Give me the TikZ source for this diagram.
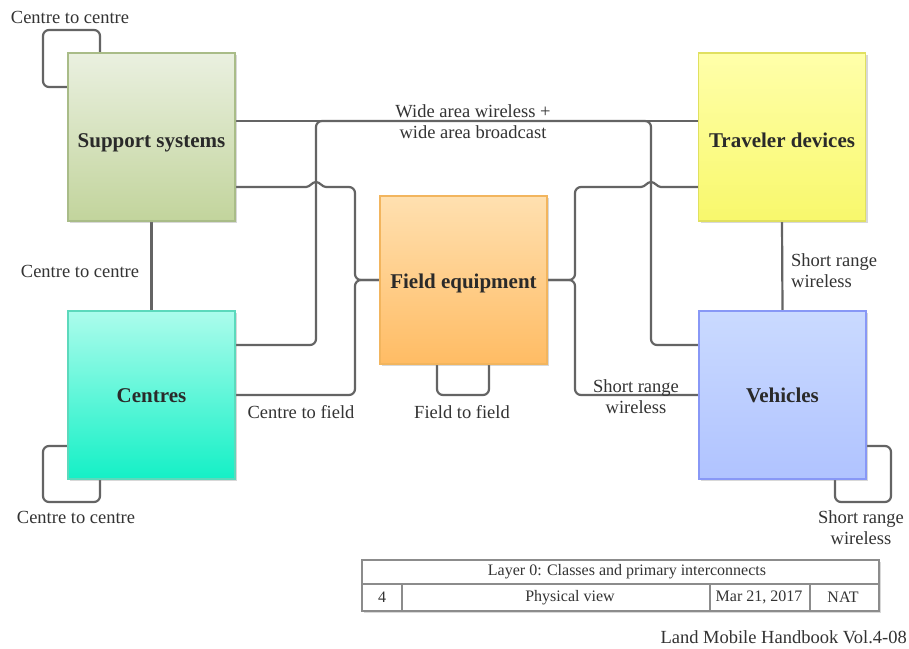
\documentclass[tikz,border=0pt]{standalone}
\usepackage{fontspec}
\setmainfont{Liberation Serif}
\usetikzlibrary{shadows}
\pgfdeclarelayer{paper}
\pgfdeclarelayer{wires}
\pgfsetlayers{paper,wires,main}

\definecolor{wirecol}{HTML}{646464}
\definecolor{titlecol}{HTML}{2A2A2A}
\definecolor{lblcol}{HTML}{333333}
\definecolor{tblcol}{HTML}{8C8C8C}
\definecolor{supdraw}{HTML}{A9BC88}
\definecolor{suptop}{HTML}{EAF0E0}
\definecolor{supbot}{HTML}{C2D49C}
\definecolor{trvdraw}{HTML}{E0E060}
\definecolor{trvtop}{HTML}{FFFFAA}
\definecolor{trvbot}{HTML}{F8F86C}
\definecolor{flddraw}{HTML}{F2B55E}
\definecolor{fldtop}{HTML}{FFE0B0}
\definecolor{fldbot}{HTML}{FFBC64}
\definecolor{cendraw}{HTML}{5CD9BC}
\definecolor{centop}{HTML}{ACFCEC}
\definecolor{cenbot}{HTML}{14F0C6}
\definecolor{vehdraw}{HTML}{8898F6}
\definecolor{vehtop}{HTML}{CADAFF}
\definecolor{vehbot}{HTML}{B0C3FF}

\begin{document}
\begin{tikzpicture}[x=1pt,y=-1pt,
  wire/.style={draw=wirecol, line width=2.2pt, rounded corners=6pt},
  hop/.style={draw=wirecol, line width=2.2pt, sharp corners},
  unit/.style={draw, line width=1.2pt, minimum width=167pt, minimum height=168pt,
    inner sep=0pt, font=\fontsize{21}{24}\selectfont\bfseries, text=titlecol,
    text height=14pt, text depth=0pt,
    drop shadow={shadow xshift=2pt, shadow yshift=-2pt, opacity=0.3}},
  lbl/.style={font=\fontsize{18.5}{21}\selectfont, text=lblcol, align=center, inner sep=0pt},
  cell/.style={draw=tblcol, line width=1.4pt, inner sep=0pt},
  ctext/.style={font=\fontsize{16}{18}\selectfont, text=lblcol, inner sep=0pt}
]
\begin{pgfonlayer}{paper}
  \fill[white] (0,0) rectangle (909,648);
\end{pgfonlayer}
\useasboundingbox (0,0) rectangle (909,648);

% physical object classes
\node[unit, draw=supdraw, top color=suptop, bottom color=supbot, text height=21pt] (sup) at (151.5,137) {Support systems};
\node[unit, draw=trvdraw, top color=trvtop, bottom color=trvbot, text height=21pt] (trv) at (782,137) {Traveler devices};
\node[unit, draw=flddraw, top color=fldtop, bottom color=fldbot, text height=16pt] (fld) at (463.5,280) {Field equipment};
\node[unit, draw=cendraw, top color=centop, bottom color=cenbot] (cen) at (151.5,395) {Centres};
\node[unit, draw=vehdraw, top color=vehtop, bottom color=vehbot] (veh) at (782.5,395) {Vehicles};

% ends of the two line hops
\coordinate (hopA) at (326,187);
\coordinate (hopB) at (641,187);

% interconnects
\begin{pgfonlayer}{wires}
  % centre to centre loops
  \draw[wire] ([xshift=-51.5pt]sup.north) -- (100,30) -- (43,30) -- (43,87) -- ([yshift=50pt]sup.west);
  \draw[wire] ([yshift=-51pt]cen.west) -- (43,446) -- (43,502) -- (100,502) -- ([xshift=-51.5pt]cen.south);
  \draw[wire] (sup.south) -- (cen.north);
  % wide area wireless
  \draw[wire] ([yshift=16pt]sup.east) -- ([yshift=16pt]trv.west);
  \draw[wire] ([yshift=50pt]cen.east) -- (316,345) -- (316,121) -- (651,121) -- (651,345) -- ([yshift=50pt]veh.west);
  % centre to field
  \draw[hop] ([yshift=-50pt]sup.east) -- (306,187)
    .. controls (310,187) and (312,182) .. (316,182)
    .. controls (320,182) and (322,187) .. (hopA);
  \draw[wire] (hopA) -- (355,187) |- (fld.west);
  \draw[wire] (cen.east) -- (355,395) |- (fld.west);
  % short range wireless to travelers and vehicles
  \draw[wire] (fld.east) -- (575,280) -- (575,187) -- (hopB);
  \draw[hop] (hopB) .. controls (645,187) and (647,182) .. (651,182)
    .. controls (655,182) and (657,187) .. (661,187) -- ([yshift=-50pt]trv.west);
  \draw[wire] (fld.east) -- (575,280) -- (575,395) -- (veh.west);
  % field to field
  \draw[wire] ([xshift=-26.5pt]fld.south) -- (437,395) -- (489,395) -- ([xshift=25.5pt]fld.south);
  % vehicle links
  \draw[wire] (trv.south) -- (veh.north);
  \draw[wire] ([yshift=-51pt]veh.east) -- (891,446) -- (891,502) -- (835,502) -- ([xshift=52.5pt]veh.south);
\end{pgfonlayer}

% connector labels
\node[lbl] (l1) at (70,17) {Centre to centre};
\node[lbl] (l2) at (80,271) {Centre to centre};
\node[lbl] (l3) at (473,122) {Wide area wireless +\\wide area broadcast};
\node[lbl] (l4) at (301,412) {Centre to field};
\node[lbl] (l5) at (462,412) {Field to field};
\node[lbl] (l6) at (636,397) {Short range\\wireless};
\node[lbl, align=left, anchor=west] (l7) at (791,270.5) {Short range\\wireless};
\node[lbl] (l8) at (861,527.5) {Short range\\wireless};
\node[lbl] (l9) at (76,517) {Centre to centre};

% title block
\node[cell, fill=white, minimum width=517pt, minimum height=51pt,
  drop shadow={shadow xshift=2pt, shadow yshift=-2pt, opacity=0.3}] (tbl) at (620.5,585.5) {};
\node[cell, minimum width=517pt, minimum height=24pt] (trow) at (620.5,572) {};
\node[cell, minimum width=40pt, minimum height=27pt] (tc1) at (382,597.5) {};
\node[cell, minimum width=308pt, minimum height=27pt] (tc2) at (556,597.5) {};
\node[cell, minimum width=100pt, minimum height=27pt] (tc3) at (760,597.5) {};
\node[cell, minimum width=69pt, minimum height=27pt] (tc4) at (844.5,597.5) {};
\node[ctext] (tt) at (627,572) {Layer 0: Classes and primary interconnects};
\node[ctext] (tn) at (382,597.5) {4};
\node[ctext] (tv) at (570,597.5) {Physical view};
\node[ctext] (td) at (759,597.5) {Mar 21, 2017};
\node[ctext] (ta) at (843,597.5) {NAT};

\node[lbl, anchor=east] (foot) at (907,637) {Land Mobile Handbook Vol.4-08};
\end{tikzpicture}
\end{document}
